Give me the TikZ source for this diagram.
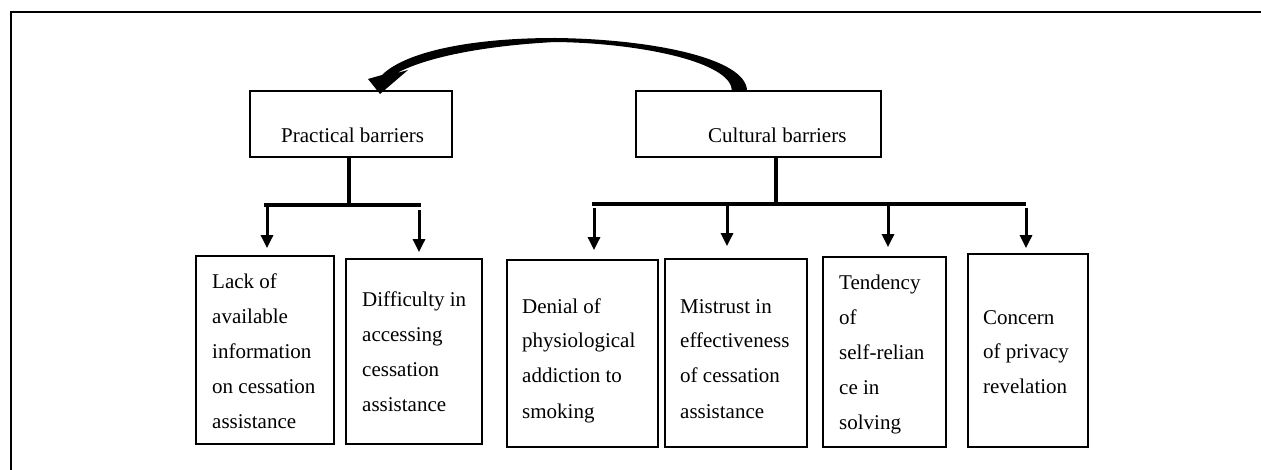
\documentclass[tikz,border=0pt]{standalone}
\usepackage{fontspec}
\setmainfont{Liberation Serif}
\usetikzlibrary{arrows.meta}
\newcommand\mystk[1]{\vtop{\baselineskip=35pt\lineskiplimit=-100pt\lineskip=0pt\halign{##\hfil\cr#1\crcr}}}
\begin{document}
\begin{tikzpicture}[x=1pt,y=-1pt,
  box/.style={draw, line width=1.8pt, inner sep=0pt},
  txt/.style={inner sep=0pt, anchor=base west, font=\fontsize{21pt}{35pt}\selectfont},
  barline/.style={line width=4pt},
  arr/.style={line width=3pt, -{Triangle[width=12pt,length=13pt]}}]
\useasboundingbox (0,0) rectangle (1261,470);
% frame
\draw[line width=2pt] (1261,12) -- (11,12) -- (11,470);
% top boxes
\node[box, minimum width=202pt, minimum height=66pt] (pract) at (351,124) {};
\node[box, minimum width=245pt, minimum height=66pt] (cult) at (758.5,124) {};
\node[txt] (practt) at (281,143) {Practical barriers};
\node[txt] (cultt) at (708,143) {Cultural barriers};
% bottom boxes
\node[box, minimum width=138pt, minimum height=188pt] (lack) at (265,350) {};
\node[box, minimum width=136pt, minimum height=185pt] (diff) at (414,351.5) {};
\node[box, minimum width=151pt, minimum height=187pt] (deni) at (582.5,353.5) {};
\node[box, minimum width=142pt, minimum height=188pt] (mist) at (736,353) {};
\node[box, minimum width=123pt, minimum height=190pt] (tend) at (884.5,352) {};
\node[box, minimum width=120pt, minimum height=193pt] (conc) at (1028,350.5) {};
\node[txt] (lackt) at (212,289) {\mystk{Lack of\cr available\cr information\cr on cessation\cr assistance}};
\node[txt] (difft) at (362,307) {\mystk{Difficulty in\cr accessing\cr cessation\cr assistance}};
\node[txt] (denit) at (522,313) {\mystk{Denial of\cr physiological\cr addiction to\cr smoking}};
\node[txt] (mistt) at (680,313) {\mystk{Mistrust in\cr effectiveness\cr of cessation\cr assistance}};
\node[txt] (tendt) at (839,290) {\mystk{Tendency\cr of\cr self-relian\cr ce in\cr solving}};
\node[txt] (conct) at (983,324) {\mystk{Concern\cr of privacy\cr revelation}};
% practical tree
\coordinate (pj) at (349,205);
\coordinate (pl) at (264,205);
\coordinate (pr) at (421,205);
\draw[barline] (pj |- pract.south) -- (pj);
\draw[barline] (pl) -- (pr);
\coordinate (a1) at (267,205);
\coordinate (a2) at (419,210);
\draw[arr, shorten >=7pt] (a1) -- (a1 |- lack.north);
\draw[arr, shorten >=6pt] (a2) -- (a2 |- diff.north);
% cultural tree
\coordinate (cj) at (776,204);
\coordinate (cl) at (592,204);
\coordinate (cr) at (1026,204);
\draw[barline] (cj |- cult.south) -- (cj);
\draw[barline] (cl) -- (cr);
\coordinate (a3) at (594,208);
\coordinate (a4) at (727,204);
\coordinate (a5) at (888,204);
\coordinate (a6) at (1026,208);
\draw[arr, shorten >=9pt] (a3) -- (a3 |- deni.north);
\draw[arr, shorten >=12pt] (a4) -- (a4 |- mist.north);
\draw[arr, shorten >=9pt] (a5) -- (a5 |- tend.north);
\draw[arr, shorten >=5pt] (a6) -- (a6 |- conc.north);
% curved arrow from cultural to practical
\fill (747,91) .. controls (747,58) and (650,39) .. (555,38)
  .. controls (470,38) and (405,52) .. (382,75)
  -- (368,79) -- (380,94) -- (408,70) -- (397,73)
  .. controls (425,58) and (480,46) .. (555,42)
  .. controls (640,43) and (732,62) .. (732,91) -- cycle;
\end{tikzpicture}
\end{document}
